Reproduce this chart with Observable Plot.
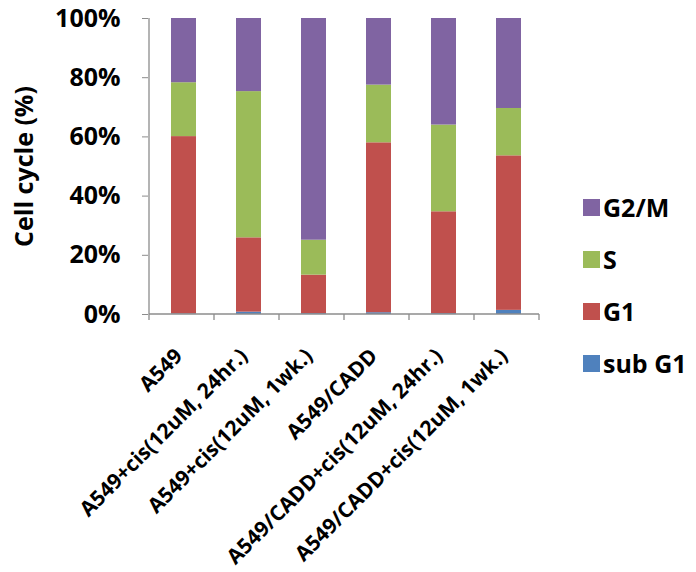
<!DOCTYPE html>
<html>
<head>
<meta charset="utf-8">
<script src="https://cdn.jsdelivr.net/npm/d3@7"></script>
<script src="https://cdn.jsdelivr.net/npm/@observablehq/plot@0.6"></script>
<style>
  html, body { margin: 0; padding: 0; background: #fff; }
  #wrap { position: relative; width: 696px; height: 572px; font-family: "Open Sans", "Noto Sans", sans-serif; }
  #legend { position: absolute; left: 583px; top: 181px; font-weight: bold; font-size: 25px; color: #000; }
  #legend .item { display: flex; align-items: center; height: 52px; }
  #legend .sw { width: 17px; height: 17px; margin-right: 3px; }
</style>
</head>
<body>
<div id="wrap"></div>
<script>
const categories = [
  "A549",
  "A549+cis(12uM, 24hr.)",
  "A549+cis(12uM, 1wk.)",
  "A549/CADD",
  "A549/CADD+cis(12uM, 24hr.)",
  "A549/CADD+cis(12uM, 1wk.)"
];
const series = ["sub G1", "G1", "S", "G2/M"];
const colors = ["#4F81BD", "#C0504D", "#9BBB59", "#8064A2"];
const subG1 = [0.2, 0.8, 0.3, 0.6, 0.3, 1.4];
const G1    = [59.9, 25.1, 13.0, 57.4, 34.4, 52.2];
const S     = [18.2, 49.4, 11.8, 19.5, 29.3, 16.0];
const G2M   = [21.7, 24.7, 74.9, 22.5, 36.0, 30.4];
const yTicks = [0, 0.2, 0.4, 0.6, 0.8, 1.0];

const valuesBySeries = [subG1, G1, S, G2M];
const data = [];
series.forEach((s, si) => {
  categories.forEach((c, ci) => data.push({cat: c, series: s, value: valuesBySeries[si][ci]}));
});

function axisLines(index, scales, values, dims) {
  const g = d3.create("svg:g").attr("stroke", "#8c8c8c").attr("stroke-width", 1.3);
  const x0 = scales.x(categories[0]);
  const step = scales.x(categories[1]) - x0;
  const yb = scales.y(0), yt = scales.y(1);
  g.append("line").attr("x1", x0).attr("x2", x0).attr("y1", yt).attr("y2", yb);
  categories.forEach((c) => {
    const xs = scales.x(c);
    g.append("line").attr("x1", xs).attr("x2", xs).attr("y1", yb).attr("y2", yb + 6);
  });
  const xe = scales.x(categories[categories.length - 1]) + step;
  g.append("line").attr("x1", xe).attr("x2", xe).attr("y1", yb).attr("y2", yb + 6);
  g.append("line").attr("x1", x0).attr("x2", xe).attr("y1", yb).attr("y2", yb);
  return g.node();
}

const chart = Plot.plot({
  width: 696,
  height: 572,
  marginLeft: 148,
  marginRight: 157,
  marginTop: 18,
  marginBottom: 258,
  style: { fontFamily: "'Open Sans', 'Noto Sans', sans-serif", fontWeight: "bold", color: "#000", background: "#fff" },
  x: { domain: categories, padding: 0, label: null },
  y: { domain: [0, 1], label: null },
  color: { domain: series, range: colors },
  marks: [
    Plot.barY(data, Plot.stackY({
      x: "cat", y: "value", fill: "series", offset: "normalize", order: series,
      insetLeft: 22, insetRight: 18
    })),
    axisLines,
    Plot.axisY({ ticks: yTicks, tickFormat: d3.format(".0%"), tickSize: 6, tickPadding: 22, fontSize: 25, stroke: "#8c8c8c", label: null }),
    Plot.axisY({ ticks: [], label: "Cell cycle (%)", labelAnchor: "center", labelArrow: false, labelOffset: 133, fontSize: 25 }),
    Plot.axisX({ tickSize: 0, tickPadding: 28, tickRotate: -45, fontSize: 21, dx: -3, dy: 10, label: null })
  ]
});

const wrap = document.getElementById("wrap");
wrap.appendChild(chart);
const legend = document.createElement("div");
legend.id = "legend";
[...series].reverse().forEach(s => {
  const item = document.createElement("div");
  item.className = "item";
  const sw = document.createElement("div");
  sw.className = "sw";
  sw.style.background = colors[series.indexOf(s)];
  const t = document.createElement("span");
  t.textContent = s;
  item.appendChild(sw);
  item.appendChild(t);
  legend.appendChild(item);
});
wrap.appendChild(legend);
</script>
</body>
</html>
